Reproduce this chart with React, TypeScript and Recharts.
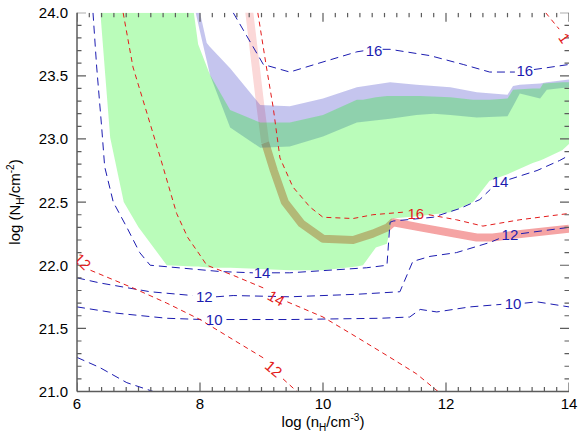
import React from 'react';
import { ComposedChart, XAxis, YAxis, Area, Line, Scatter } from 'recharts';

const AXIS = '#5c5c5c';
const BLUE = '#1c1cb0';
const RED = '#e31b1b';

const xTicks = [6, 8, 10, 12, 14];
const yTicks = [21, 21.5, 22, 22.5, 23, 23.5, 24];

// [x, lower, upper]
const greenRegion = [
  [6.38, 24, 24], [6.46, 23.5, 24], [6.54, 23.01, 24], [6.76, 22.5, 24], [7.0, 22.3, 24],
  [7.46, 22.0, 24], [7.9, 21.99, 24], [7.97, 21.99, 23.75], [8.16, 21.98, 23.51],
  [8.49, 21.98, 23.23], [8.98, 21.97, 23.13], [9.46, 21.96, 23.13], [10.0, 21.96, 23.19],
  [10.55, 21.99, 23.31], [10.65, 22.0, 23.31], [10.86, 22.14, 23.33], [11.04, 22.17, 23.34],
  [11.12, 22.37, 23.34], [11.58, 22.39, 23.34], [12.07, 22.42, 23.33], [12.44, 22.5, 23.31],
  [12.71, 22.67, 23.31], [13.0, 22.72, 23.32], [13.09, 22.74, 23.39], [13.41, 22.81, 23.4],
  [13.53, 22.83, 23.4], [13.58, 22.84, 23.44], [13.89, 22.91, 23.45], [14.0, 22.96, 23.45],
];

const blueBand = [
  [7.93, 24, 24], [8.0, 23.85, 24], [8.11, 23.62, 23.76], [8.16, 23.51, 23.73],
  [8.49, 23.09, 23.56], [8.98, 22.93, 23.27], [9.46, 22.94, 23.26], [10.0, 23.02, 23.32],
  [10.55, 23.13, 23.41], [11.09, 23.16, 23.45], [11.52, 23.19, 23.43], [11.8, 23.2, 23.42],
  [12.07, 23.19, 23.41], [12.5, 23.17, 23.37], [13.0, 23.18, 23.35], [13.09, 23.26, 23.42],
  [13.2, 23.36, 23.43], [13.53, 23.32, 23.44], [13.64, 23.39, 23.45], [14.0, 23.41, 23.47],
];

const pinkUpper = [[8.79, 24.05], [8.98, 23.27], [9.06, 22.97]];
const pinkLower = [
  [9.06, 22.97], [9.2, 22.75], [9.38, 22.5], [9.65, 22.33], [10.0, 22.21], [10.49, 22.2],
  [10.81, 22.25], [11.05, 22.3], [11.14, 22.34], [11.58, 22.3], [12.5, 22.22],
  [12.76, 22.22], [13.25, 22.25], [14.0, 22.29],
];

// contours, null = gap for label
const blue16 = [
  [8.54, 24.0], [9.03, 23.59], [9.46, 23.53], [10.0, 23.61], [10.55, 23.69], [10.68, 23.7],
  [10.82, null], [10.97, 23.71], [11.09, 23.71], [11.74, 23.66], [12.28, 23.59], [12.71, 23.53],
  [13.12, 23.53], [13.28, null], [13.43, 23.55], [13.58, 23.56], [14.0, 23.59],
];
const blue14 = [
  [6.26, 24.0], [6.32, 23.57], [6.4, 23.1], [6.45, 22.78], [6.59, 22.5], [6.81, 22.3],
  [7.02, 22.1], [7.19, 22.0], [8.33, 21.95], [8.86, 21.94], [9.0, null], [9.17, 21.94],
  [9.46, 21.94], [10.71, 21.98], [11.04, 22.0], [11.09, 22.34], [11.14, 22.35], [11.79, 22.38],
  [12.23, 22.45], [12.55, 22.52], [12.72, 22.6], [12.88, null], [13.03, 22.68], [13.48, 22.75],
  [13.85, 22.83], [14.0, 22.87],
];
const blue12 = [
  [6.0, 21.9], [6.37, 21.86], [7.19, 21.79], [7.88, 21.76], [8.06, null], [8.26, 21.75],
  [8.54, 21.76], [9.46, 21.75], [10.55, 21.77], [11.25, 21.79], [11.46, 22.03], [11.74, 22.07],
  [12.17, 22.1], [12.71, 22.18], [12.86, 22.21], [13.04, null], [13.22, 22.25], [13.37, 22.26],
  [14.0, 22.3],
];
const blue10 = [
  [6.0, 21.67], [6.65, 21.62], [7.46, 21.58], [8.04, 21.57], [8.23, null], [8.43, 21.57],
  [9.46, 21.57], [10.93, 21.58], [11.41, 21.59], [11.58, 21.65], [11.85, 21.63], [12.39, 21.67],
  [12.9, 21.69], [13.09, null], [13.28, 21.7], [13.48, 21.71], [14.0, 21.67],
];
const blue8 = [[6.0, 21.27], [6.37, 21.19], [6.81, 21.07], [7.24, 21.0], [7.5, 20.95]];

const red16 = [
  [8.94, 24.0], [9.08, 23.57], [9.19, 23.25], [9.3, 22.85], [9.51, 22.62], [9.79, 22.46],
  [10.0, 22.38], [10.49, 22.37], [10.81, 22.4], [11.3, 22.42], [11.51, null], [11.72, 22.4],
  [12.17, 22.36], [12.6, 22.31], [13.2, 22.36], [14.0, 22.41],
];
const red14 = [
  [6.75, 24.0], [6.91, 23.57], [7.14, 23.2], [7.35, 22.86], [7.62, 22.41], [7.8, 22.22],
  [8.0, 22.08], [8.11, 22.0], [8.54, 21.92], [9.08, 21.81], [9.24, null], [9.42, 21.71],
  [10.0, 21.59], [10.55, 21.43], [11.09, 21.27], [11.52, 21.14], [11.92, 20.98],
];
const red12 = [
  [6.22, 21.96], [6.91, 21.82], [7.46, 21.7], [8.0, 21.57], [8.54, 21.41], [9.05, 21.26],
  [9.2, null], [9.35, 21.1], [9.62, 20.98],
];
const red12Top = [[13.62, 24.0], [13.84, 23.87]];

// [x, y, text, angle]
const blueLabels = [
  [10.83, 23.7, '16', 0], [13.28, 23.54, '16', 0], [12.88, 22.66, '14', 0],
  [9.01, 21.94, '14', 0], [8.07, 21.75, '12', 0], [13.04, 22.24, '12', 0],
  [8.23, 21.57, '10', 0], [13.09, 21.7, '10', 0],
];
const redLabels = [
  [11.51, 22.41, '16', 0], [9.24, 21.74, '14', 30], [9.2, 21.18, '12', 40],
  [6.09, 22.03, '12', 45], [13.93, 23.8, '1', 55],
];

const pts = (a: any[]) => a.map(([x, y]) => ({ x, y }));
const rng = (a: number[][]) => a.map(([x, lo, hi]) => ({ x, r: [lo, hi] }));
const lbl = (a: any[]) => a.map(([x, y, t, a2]) => ({ x, y, t, a: a2 }));

const minorX: number[] = [];
for (let i = 0; i <= 40; i++) minorX.push(Math.round((6 + i * 0.2) * 10) / 10);
const minorY: number[] = [];
for (let i = 0; i <= 30; i++) minorY.push(Math.round((21 + i * 0.1) * 10) / 10);

const isMajor = (v: number, list: number[]) => list.some((m) => Math.abs(m - v) < 1e-6);
const FONT = '"Liberation Sans", Arial, Helvetica, sans-serif';

// tick marks drawn inward from the frame
const xLen = (x: number) => (isMajor(x, xTicks) ? 9 : 4.5);
const yLen = (y: number) => (isMajor(y, yTicks) ? 9 : 4.5);
const tickBottom = minorX.map((x) => ({ x, y: 21, dx: 0, dy: -1, len: xLen(x) }));
const tickTop = minorX.map((x) => ({ x, y: 24, dx: 0, dy: 1, len: xLen(x) }));
const tickLeft = minorY.map((y) => ({ x: 6, y, dx: 1, dy: 0, len: yLen(y) }));
const tickRight = minorY.map((y) => ({ x: 14, y, dx: -1, dy: 0, len: yLen(y) }));

function TickMark(p: any) {
  const d = p.payload || p;
  return (
    <line
      x1={p.cx} y1={p.cy} x2={p.cx + d.dx * d.len} y2={p.cy + d.dy * d.len}
      stroke={AXIS} strokeWidth={1.2}
    />
  );
}

function XLabel(props: any) {
  const { x, y, payload } = props;
  const v = payload.value;
  return (
    <text x={x} y={y + 17.5} textAnchor="middle" fontSize={15} fontFamily={FONT} fill="#000">
      {v}
    </text>
  );
}

function YLabel(props: any) {
  const { x, y, payload } = props;
  const v = payload.value;
  return (
    <text x={x - 9} y={y + 5.5} textAnchor="end" fontSize={15} fontFamily={FONT} fill="#000">
      {v.toFixed(1)}
    </text>
  );
}

const labelShape = (color: string) => (p: any) => {
  const d = p.payload || p;
  return (
    <text
      x={p.cx}
      y={p.cy}
      textAnchor="middle"
      dominantBaseline="central"
      fontSize={15}
      fontFamily={FONT}
      fill={color}
      transform={`rotate(${d.a}, ${p.cx}, ${p.cy})`}
    >
      {d.t}
    </text>
  );
};

export default function App() {
  return (
    <div style={{ position: 'absolute', left: 0, top: 0, width: 579, height: 440, background: '#fff' }}>
      <ComposedChart width={579} height={440} margin={{ top: 12.7, right: 10, bottom: 18.5, left: 17 }}>
        <XAxis
          dataKey="x" type="number" domain={[6, 14]} allowDataOverflow ticks={xTicks} interval={0}
          tickSize={0} tickMargin={0} height={30} axisLine={{ stroke: AXIS, strokeWidth: 1.5 }}
          tickLine={false}
          tick={<XLabel />}
          label={{
            content: (p: any) => {
              const vb = p.viewBox;
              return (
                <text x={vb.x + vb.width / 2} y={427} textAnchor="middle" fontSize={15} fontFamily={FONT} fill="#000">
                  log (n<tspan fontSize={10} dy={4}>H</tspan>
                  <tspan dy={-4}>/cm</tspan>
                  <tspan fontSize={10} dy={-6}>-3</tspan>
                  <tspan dy={6}>)</tspan>
                </text>
              );
            },
          }}
        />
        <XAxis
          xAxisId="top" orientation="top" dataKey="x" type="number" domain={[6, 14]} allowDataOverflow
          ticks={xTicks} tick={false} tickLine={false} height={0}
          axisLine={{ stroke: AXIS, strokeWidth: 1.5 }}
        />
        <YAxis
          type="number" domain={[21, 24]} allowDataOverflow ticks={yTicks} interval={0}
          tickSize={0} tickMargin={0} width={60} axisLine={{ stroke: AXIS, strokeWidth: 1.5 }}
          tickLine={false}
          tick={<YLabel />}
          label={{
            content: () => (
              <text
                x={20} y={202} textAnchor="middle" fontSize={15} fontFamily={FONT} fill="#000"
                transform="rotate(-90, 20, 202)"
              >
                log (N<tspan fontSize={10} dy={4}>H</tspan>
                <tspan dy={-4}>/cm</tspan>
                <tspan fontSize={10} dy={-6}>-2</tspan>
                <tspan dy={6}>)</tspan>
              </text>
            ),
          }}
        />
        <YAxis
          yAxisId="right" orientation="right" type="number" domain={[21, 24]} allowDataOverflow
          ticks={yTicks} tick={false} tickLine={false} width={0}
          axisLine={{ stroke: AXIS, strokeWidth: 1.5 }}
        />

        <Area data={pts(pinkUpper)} dataKey="y" type="linear" fill="none" stroke="#fbd8d8" strokeWidth={8} isAnimationActive={false} />
        <Area data={pts(pinkLower)} dataKey="y" type="linear" fill="none" stroke="#f5a4a4" strokeWidth={8} strokeLinejoin="round" isAnimationActive={false} />
        <Area data={rng(blueBand)} dataKey="r" type="linear" fill="#2828c0" fillOpacity={0.27} stroke="none" isAnimationActive={false} />
        <Area data={rng(greenRegion)} dataKey="r" type="linear" fill="#00f400" fillOpacity={0.27} stroke="none" isAnimationActive={false} />

        {[blue16, blue14, blue12, blue10, blue8].map((d, i) => (
          <Line key={'b' + i} data={pts(d)} dataKey="y" type="linear" stroke={BLUE} strokeWidth={1} strokeDasharray="8 5" dot={false} isAnimationActive={false} />
        ))}
        {[red16, red14, red12, red12Top].map((d, i) => (
          <Line key={'r' + i} data={pts(d)} dataKey="y" type="linear" stroke={RED} strokeWidth={1} strokeDasharray="5 4" dot={false} isAnimationActive={false} />
        ))}

        <Scatter data={tickBottom} dataKey="y" shape={TickMark} isAnimationActive={false} />
        <Scatter data={tickTop} dataKey="y" shape={TickMark} isAnimationActive={false} />
        <Scatter data={tickLeft} dataKey="y" shape={TickMark} isAnimationActive={false} />
        <Scatter data={tickRight} dataKey="y" shape={TickMark} isAnimationActive={false} />
        <Scatter data={lbl(blueLabels)} dataKey="y" shape={labelShape(BLUE)} isAnimationActive={false} />
        <Scatter data={lbl(redLabels)} dataKey="y" shape={labelShape(RED)} isAnimationActive={false} />
      </ComposedChart>
    </div>
  );
}
